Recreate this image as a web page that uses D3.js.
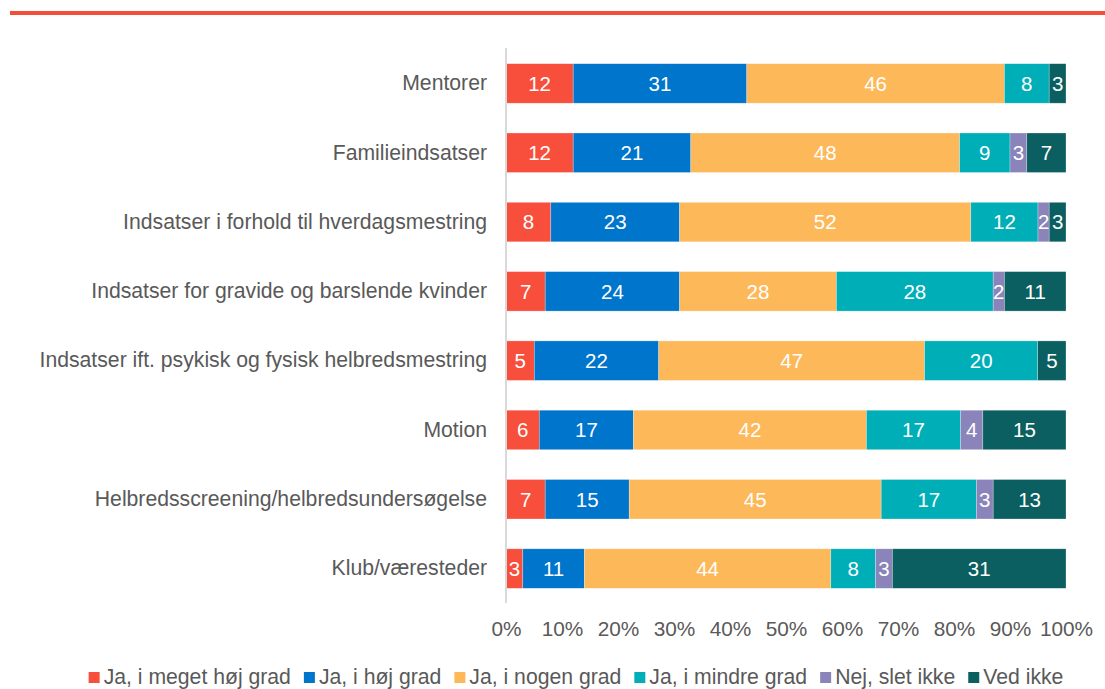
<!DOCTYPE html>
<html>
<head>
<meta charset="utf-8">
<script src="https://cdn.jsdelivr.net/npm/d3@7"></script>
<style>
  html, body { margin: 0; padding: 0; background: #fff; }
  svg { display: block; font-family: "Liberation Sans", Arial, sans-serif; }
</style>
</head>
<body>
<svg id="chart" width="1105" height="689"></svg>
<script>
// Survey categories (top to bottom)
const categories = [
  "Mentorer",
  "Familieindsatser",
  "Indsatser i forhold til hverdagsmestring",
  "Indsatser for gravide og barslende kvinder ",
  "Indsatser ift. psykisk og fysisk helbredsmestring",
  "Motion",
  "Helbredsscreening/helbredsundersøgelse",
  "Klub/væresteder"
];

// Answer options (stack order, left to right)
const seriesNames = [
  "Ja, i meget høj grad",
  "Ja, i høj grad",
  "Ja, i nogen grad",
  "Ja, i mindre grad",
  "Nej, slet ikke",
  "Ved ikke"
];

// Percentages per answer option, one value per category
const jaMegetHoej = [12, 12, 8, 7, 5, 6, 7, 3];
const jaHoej      = [31, 21, 23, 24, 22, 17, 15, 11];
const jaNogen     = [46, 48, 52, 28, 47, 42, 45, 44];
const jaMindre    = [8, 9, 12, 28, 20, 17, 17, 8];
const nejSlet     = [0, 3, 2, 2, 0, 4, 3, 3];
const vedIkke     = [3, 7, 3, 11, 5, 15, 13, 31];

const xTicks = [0, 0.1, 0.2, 0.3, 0.4, 0.5, 0.6, 0.7, 0.8, 0.9, 1.0];

const colors = ["#F84E3C", "#0075CC", "#FDB85A", "#00AEB8", "#8A84BA", "#0B5F60"];

const seriesValues = [jaMegetHoej, jaHoej, jaNogen, jaMindre, nejSlet, vedIkke];

// Row table for the stack layout, normalised to 100 % per category
const rows = categories.map((c, i) => {
  const r = { category: c };
  let total = 0;
  seriesNames.forEach((s, j) => { r[s] = seriesValues[j][i]; total += seriesValues[j][i]; });
  r.total = total;
  return r;
});

const stack = d3.stack()
  .keys(seriesNames)
  .value((d, key) => d[key] / d.total);
const layers = stack(rows);

const svg = d3.select("#chart");
const textColor = "#595959";
const fontSize = 21.2;

// Top accent rule
svg.append("rect")
  .attr("x", 10).attr("y", 11)
  .attr("width", 1095).attr("height", 4)
  .attr("fill", "#F44E3B");

const x = d3.scaleLinear().domain([0, 1]).range([506, 1066]);
const y = d3.scaleBand()
  .domain(categories)
  .range([48.8, 603.2])
  .paddingInner(0.43)
  .paddingOuter(0.215);

// Bars
const layerG = svg.append("g").selectAll("g")
  .data(layers)
  .join("g")
  .attr("fill", (d, i) => colors[i]);

layerG.selectAll("rect")
  .data(d => d.map(v => ({ v, key: d.key })))
  .join("rect")
  .attr("x", d => x(d.v[0]))
  .attr("y", d => y(d.v.data.category))
  .attr("width", d => Math.max(0, x(d.v[1]) - x(d.v[0])))
  .attr("height", y.bandwidth())
  .attr("stroke", "rgba(255,255,255,0.45)")
  .attr("stroke-width", 0.6);

// Value labels inside segments
layerG.selectAll("text")
  .data(d => d.map(v => ({ v, key: d.key })).filter(d => d.v.data[d.key] > 0))
  .join("text")
  .attr("x", d => (x(d.v[0]) + x(d.v[1])) / 2)
  .attr("y", d => y(d.v.data.category) + y.bandwidth() / 2)
  .attr("dy", "0.36em")
  .attr("text-anchor", "middle")
  .attr("fill", "#fff")
  .attr("font-size", 20.5)
  .text(d => d.v.data[d.key]);

// Vertical axis line
svg.append("line")
  .attr("x1", 506).attr("x2", 506)
  .attr("y1", 48).attr("y2", 603)
  .attr("stroke", "#D9D9D9")
  .attr("stroke-width", 2);

// Category axis
const yAxis = svg.append("g")
  .attr("transform", "translate(506,0)")
  .call(d3.axisLeft(y).tickSize(0).tickPadding(19));
yAxis.select(".domain").remove();
yAxis.selectAll("text")
  .attr("fill", textColor)
  .attr("font-size", fontSize)
  .attr("font-family", "Liberation Sans, Arial, sans-serif");

// Percentage axis
const xAxis = svg.append("g")
  .attr("transform", "translate(0,603)")
  .call(d3.axisBottom(x).tickValues(xTicks).tickFormat(d3.format(".0%")).tickSize(0).tickPadding(18));
xAxis.select(".domain").remove();
xAxis.selectAll("text")
  .attr("fill", textColor)
  .attr("font-size", 20.8)
  .attr("font-family", "Liberation Sans, Arial, sans-serif");

// Legend
const legend = svg.append("g");
const items = legend.selectAll("g")
  .data(seriesNames)
  .join("g");
items.append("rect")
  .attr("width", 11).attr("height", 11)
  .attr("y", -12)
  .attr("fill", (d, i) => colors[i]);
items.append("text")
  .attr("x", 15)
  .attr("fill", textColor)
  .attr("font-size", fontSize)
  .text(d => d);

let cx = 0;
const gap = 13;
items.each(function () {
  const w = 15 + d3.select(this).select("text").node().getComputedTextLength();
  d3.select(this).attr("transform", `translate(${cx},0)`);
  cx += w + gap;
});
const legendWidth = cx - gap;
legend.attr("transform", `translate(${576 - legendWidth / 2},684)`);
</script>
</body>
</html>
